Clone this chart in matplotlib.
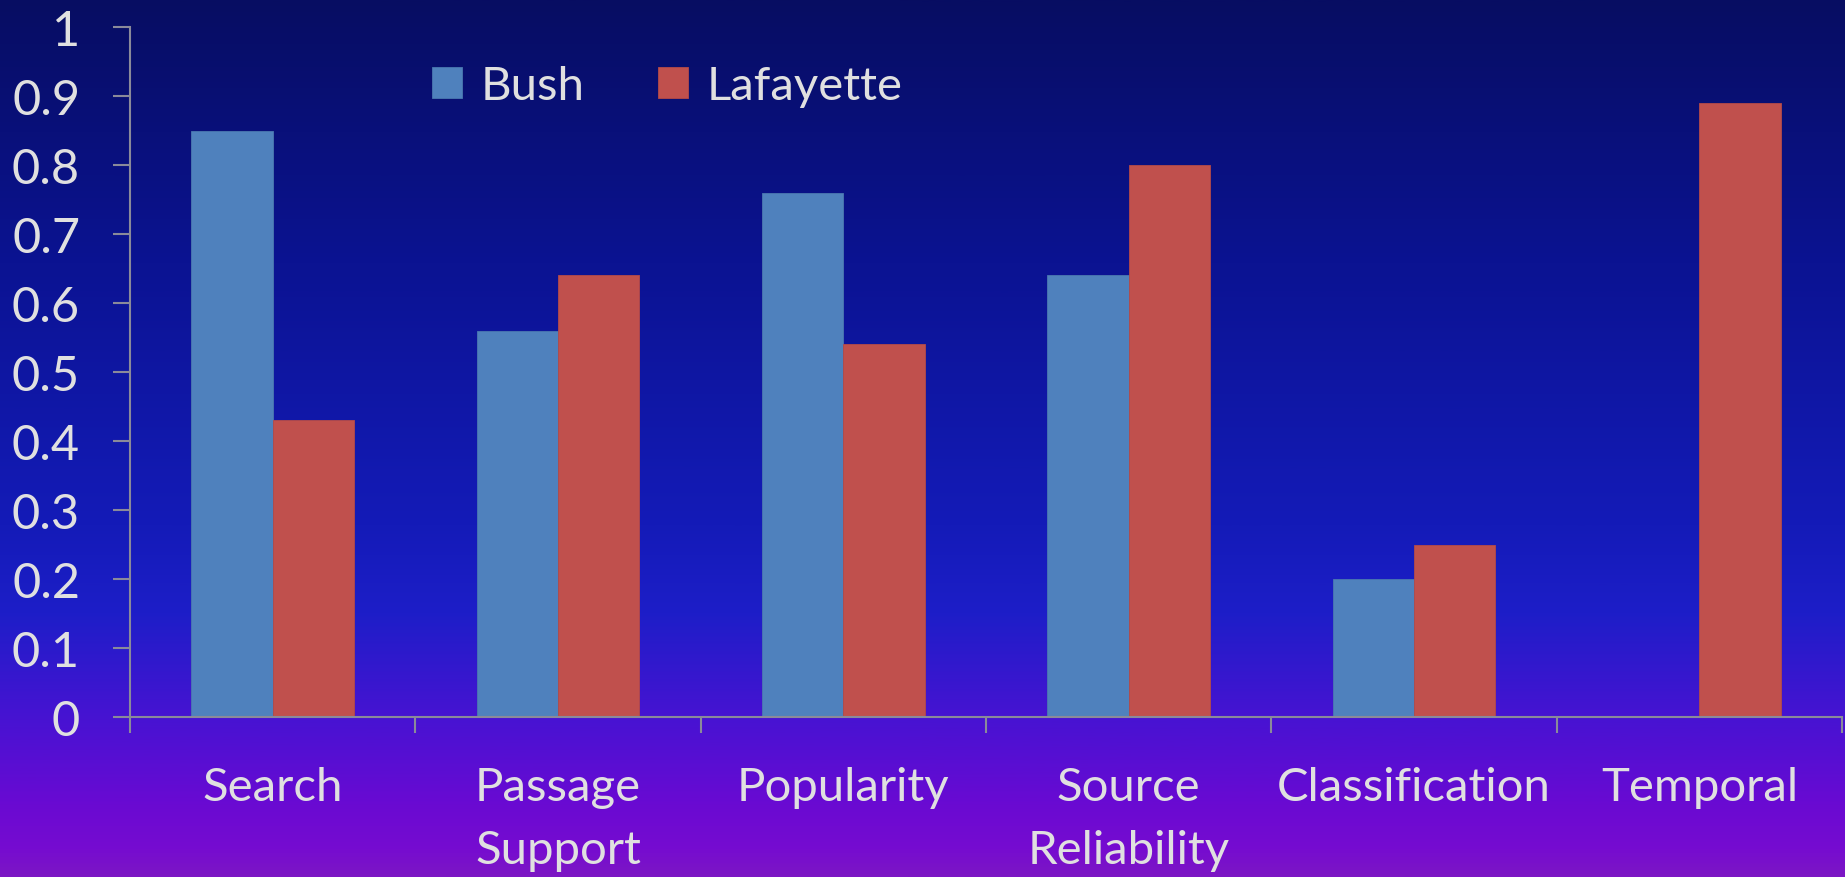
import numpy as np
import matplotlib
matplotlib.use("Agg")
import matplotlib.pyplot as plt
from matplotlib.colors import LinearSegmentedColormap

categories = ["Search", "Passage\nSupport", "Popularity", "Source\nReliability", "Classification", "Temporal"]
bush = [0.85, 0.56, 0.76, 0.64, 0.20, 0.0]
lafayette = [0.43, 0.64, 0.54, 0.80, 0.25, 0.89]
yticks = [0, 0.1, 0.2, 0.3, 0.4, 0.5, 0.6, 0.7, 0.8, 0.9, 1]
ytick_labels = ["0", "0.1", "0.2", "0.3", "0.4", "0.5", "0.6", "0.7", "0.8", "0.9", "1"]
series_names = ["Bush", "Lafayette"]

TXT = "#e0e0e0"
AX = "#8a8a9a"
FONT = ["Lato", "DejaVu Sans"]
FS = 34

plt.rcParams['font.family'] = FONT

W, H = 1845, 878
fig = plt.figure(figsize=(W / 100, H / 100), dpi=100)

# background gradient
bg = fig.add_axes([0, 0, 1, 1], zorder=-10)
stops = [
    (0.00, "#070d62"),
    (0.30, "#0b1392"),
    (0.60, "#141bb8"),
    (0.70, "#1d1ec8"),
    (0.82, "#4713d2"),
    (0.92, "#6a0ad2"),
    (0.97, "#760cd0"),
    (1.00, "#7c16c4"),
]
cmap = LinearSegmentedColormap.from_list("bg", stops)
grad = np.linspace(0, 1, 512).reshape(-1, 1)
bg.imshow(grad, aspect="auto", cmap=cmap, extent=[0, 1, 1, 0])
bg.set_xlim(0, 1); bg.set_ylim(1, 0)
bg.axis("off")

left = 130 / W
width = (1842 - 130) / W
bottom = (H - 718) / H
height = 690 / H
ax = fig.add_axes([left, bottom, width, height])
ax.set_facecolor("none")

x = np.arange(len(categories))
bw = 0.285
ax.bar(x - bw / 2, bush, bw, color="#4f81bd", edgecolor="#4a78b0", linewidth=0.6, label=series_names[0])
ax.bar(x + bw / 2, lafayette, bw, color="#c0504d", edgecolor="#b44a48", linewidth=0.6, label=series_names[1])

ax.set_xlim(-0.5, len(categories) - 0.5)
ax.set_ylim(0, 1)

for s in ["top", "right"]:
    ax.spines[s].set_visible(False)
for s in ["left", "bottom"]:
    ax.spines[s].set_color(AX)
    ax.spines[s].set_linewidth(1.5)

ax.set_yticks(yticks)
ax.set_yticklabels(ytick_labels)
ax.tick_params(axis="y", direction="out", length=12, width=1.5, color=AX,
               labelcolor=TXT, labelsize=FS + 1, pad=24)

ax.set_xticks(np.arange(len(categories) + 1) - 0.5)
ax.set_xticklabels([])
ax.tick_params(axis="x", which="major", direction="out", length=11.5, width=1.5, color=AX)
ax.set_xticks(x, minor=True)
ax.set_xticklabels(categories, minor=True, linespacing=1.62)
ax.tick_params(axis="x", which="minor", length=0, labelcolor=TXT, labelsize=FS, pad=35)

leg = fig.legend(loc="center left", bbox_to_anchor=(432 / W, 1 - 87 / H), ncol=2,
                 frameon=False, fontsize=FS, handlelength=0.63, handleheight=0.63,
                 handletextpad=0.4, columnspacing=1.55, borderpad=0, borderaxespad=0)
for t in leg.get_texts():
    t.set_color(TXT)

fig.savefig("out.png", dpi=100)
